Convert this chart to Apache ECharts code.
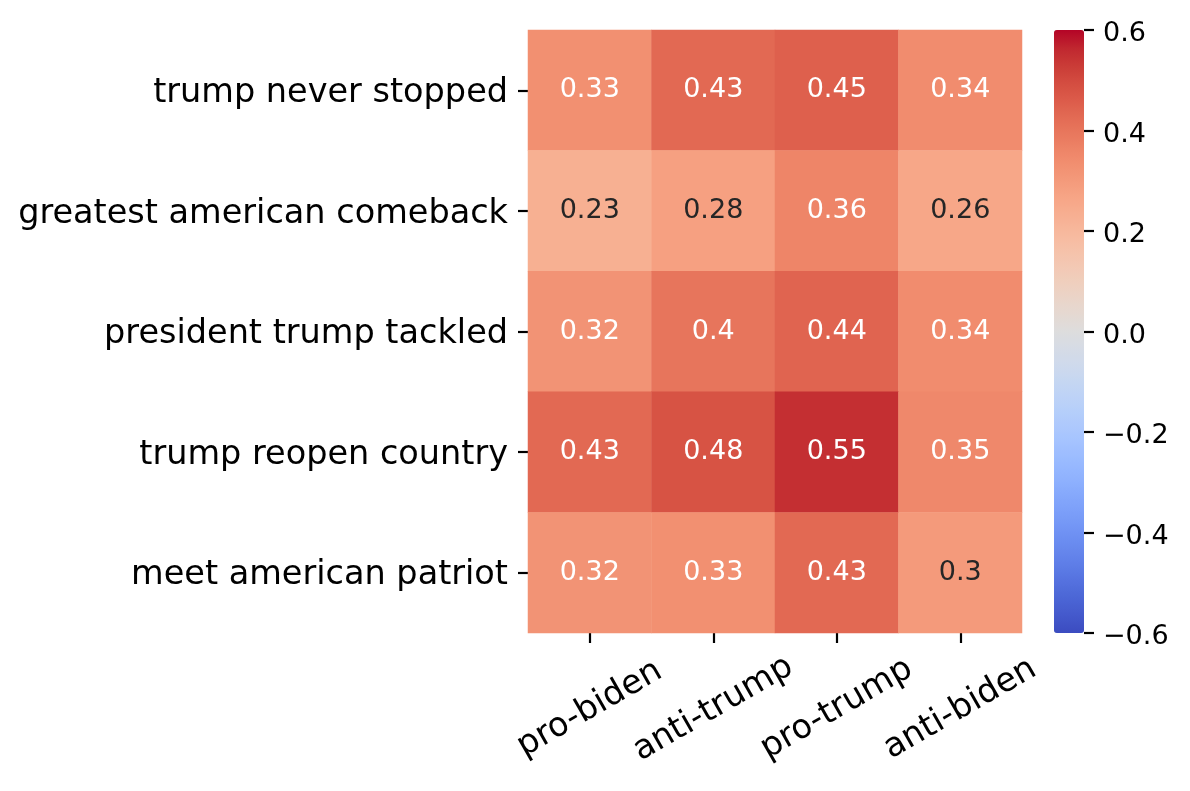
<!DOCTYPE html>
<html>
<head>
<meta charset="utf-8">
<script src="https://cdn.jsdelivr.net/npm/echarts@6/dist/echarts.min.js"></script>
<style>
html,body{margin:0;padding:0;background:#fff;}
#chart{width:1190px;height:791px;}
</style>
</head>
<body>
<div id="chart"></div>
<script>
const columns = ['pro-biden', 'anti-trump', 'pro-trump', 'anti-biden'];
const rows = ['trump never stopped', 'greatest american comeback', 'president trump tackled', 'trump reopen country', 'meet american patriot'];
const rowTrumpNeverStopped = [0.33, 0.43, 0.45, 0.34];
const rowGreatestComeback = [0.23, 0.28, 0.36, 0.26];
const rowPresidentTackled = [0.32, 0.4, 0.44, 0.34];
const rowReopenCountry = [0.43, 0.48, 0.55, 0.35];
const rowMeetPatriot = [0.32, 0.33, 0.43, 0.3];
const colorbarTicks = [-0.6, -0.4, -0.2, 0.0, 0.2, 0.4, 0.6];
const vmin = -0.6, vmax = 0.6;

const coolwarm = [[59,76,192],[68,90,204],[77,104,215],[87,117,225],[98,130,234],[108,142,241],[119,154,247],[130,165,251],[141,176,254],[152,185,255],[163,194,255],[174,201,253],[184,208,249],[194,213,244],[204,217,238],[213,219,230],[221,221,221],[229,216,209],[236,211,197],[241,204,185],[245,196,173],[247,187,160],[247,177,148],[247,166,135],[244,154,123],[241,141,111],[236,127,99],[229,112,88],[222,96,77],[213,80,66],[203,62,56],[192,40,47],[180,4,38]]
  .map(c => 'rgb(' + c.join(',') + ')');

const matrix = [rowTrumpNeverStopped, rowGreatestComeback, rowPresidentTackled, rowReopenCountry, rowMeetPatriot];
const data = [];
matrix.forEach((r, yi) => r.forEach((v, xi) => {
  data.push({
    value: [xi, yi, v],
    label: { color: v < 0.315 ? '#262626' : '#ffffff' }
  });
}));

const FONT = 'DejaVu Sans';
const tickStyle = { show: true, inside: false, length: 10, lineStyle: { color: '#000', width: 2.2 } };
const chart = echarts.init(document.getElementById('chart'));
chart.setOption({
  backgroundColor: '#ffffff',
  animation: false,
  grid: [
    { left: 528, top: 30, width: 494, height: 603 },
    { left: 1084, top: 30, width: 1, height: 603 }
  ],
  xAxis: [
    {
      type: 'category', data: columns, gridIndex: 0,
      axisLine: { show: false },
      axisTick: Object.assign({ alignWithLabel: true }, tickStyle),
      axisLabel: { rotate: 30, align: 'center', verticalAlign: 'middle', margin: 76, fontSize: 33.5, fontFamily: FONT, color: '#000', interval: 0 },
      splitLine: { show: false }
    },
    { type: 'value', gridIndex: 1, show: false, min: 0, max: 1 }
  ],
  yAxis: [
    {
      type: 'category', data: rows, gridIndex: 0, inverse: true,
      axisLine: { show: false },
      axisTick: Object.assign({ alignWithLabel: true }, tickStyle),
      axisLabel: { margin: 20, fontSize: 33.5, fontFamily: FONT, color: '#000', interval: 0, verticalAlign: 'top', lineHeight: 6 },
      splitLine: { show: false }
    },
    {
      type: 'value', gridIndex: 1, position: 'left', min: vmin, max: vmax, interval: 0.2, z: 10,
      axisLine: { show: true, lineStyle: { color: 'rgba(0,0,0,0)', width: 0 } },
      axisTick: { show: true, inside: true, length: 10, lineStyle: { color: '#000', width: 2.2 } },
      axisLabel: {
        show: true, inside: true, margin: 19, fontSize: 27, fontFamily: FONT, color: '#000', verticalAlign: 'top', lineHeight: 8,
        formatter: v => (Math.abs(v) < 1e-9 ? '0.0' : v.toFixed(1).replace('-', '\u2212'))
      },
      splitLine: { show: false }
    }
  ],
  visualMap: {
    type: 'continuous', seriesIndex: 0, min: vmin, max: vmax, z: 1,
    orient: 'vertical', left: 1054, top: 30, itemWidth: 30, itemHeight: 603,
    padding: 0, text: null, showLabel: false, calculable: false, hoverLink: false,
    inRange: { color: coolwarm }
  },
  series: [
    {
      type: 'heatmap', xAxisIndex: 0, yAxisIndex: 0, data: data,
      label: {
        show: true, fontSize: 27, fontFamily: FONT,
        formatter: p => String(Number(p.value[2].toPrecision(2)))
      },
      emphasis: { disabled: true }
    },
    { type: 'line', xAxisIndex: 1, yAxisIndex: 1, data: [] }
  ]
});
</script>
</body>
</html>
